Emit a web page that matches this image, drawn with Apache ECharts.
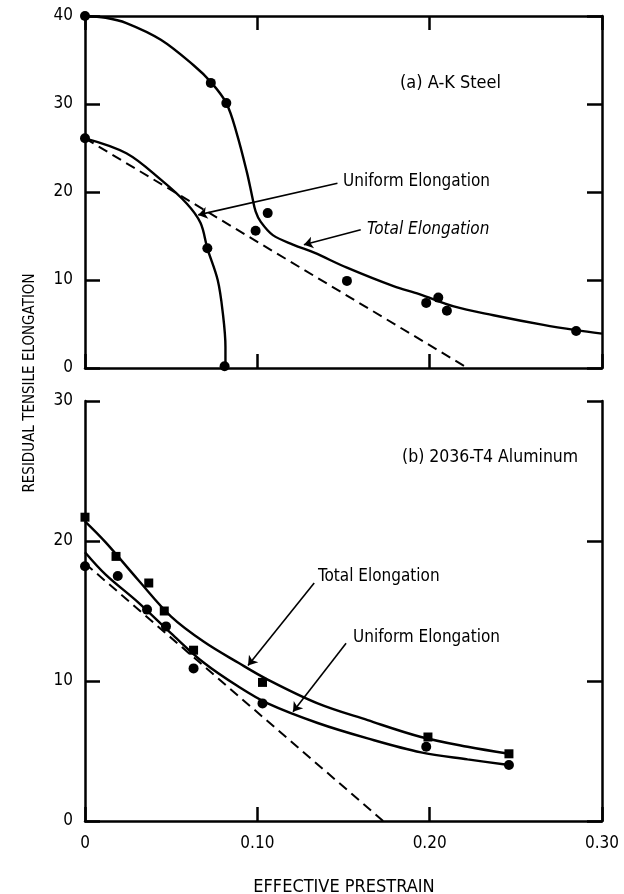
<!DOCTYPE html>
<html><head><meta charset="utf-8">
<script src="https://cdn.jsdelivr.net/npm/echarts@6/dist/echarts.min.js"></script>
<style>html,body{margin:0;padding:0;background:#fff}#c{width:624px;height:894px}</style>
</head><body><div id="c"></div>
<script>
// ---------- Data: (a) A-K Steel ----------
const steelTotalCurve = [[0,40],[0.012,39.8],[0.024,39.2],[0.044,37.3],[0.063,34.4],[0.073,32.5],[0.082,30.1],[0.088,26.7],[0.094,22.2],[0.097,19.5],[0.099,17.8],[0.102,16.6],[0.109,15.1],[0.121,14.0],[0.133,13.1],[0.152,11.4],[0.179,9.3],[0.194,8.4],[0.214,7.0],[0.237,6.0],[0.266,4.9],[0.285,4.3],[0.30,3.9]];
const steelUniformCurve = [[0,26.1],[0.024,24.4],[0.044,21.4],[0.059,18.7],[0.067,16.5],[0.071,13.6],[0.077,10.0],[0.080,6.2],[0.0815,2.4],[0.0815,0.2]];
const steelLinearLine = [[0,26.1],[0.222,0]];
const steelPoints = [[0,40],[0.073,32.4],[0.082,30.1],[0.106,17.6],[0.099,15.6],[0.152,9.9],[0.198,7.4],[0.205,8.0],[0.210,6.5],[0.285,4.2],[0,26.1],[0.071,13.6],[0.081,0.2]];

// ---------- Data: (b) 2036-T4 Aluminum ----------
const alTotalCurve = [[0,21.4],[0.012,19.9],[0.031,17.2],[0.050,14.6],[0.069,12.8],[0.089,11.3],[0.106,10.1],[0.135,8.4],[0.164,7.2],[0.195,6.0],[0.222,5.3],[0.246,4.8]];
const alUniformCurve = [[0,19.2],[0.012,17.6],[0.031,15.6],[0.050,13.4],[0.069,11.3],[0.089,9.6],[0.106,8.4],[0.135,7.0],[0.164,5.9],[0.195,4.9],[0.222,4.4],[0.246,4.0]];
const alLinearLine = [[0,18.4],[0.173,0]];
const alTotalPoints = [[0,21.7],[0.018,18.9],[0.037,17.0],[0.046,15.0],[0.063,12.2],[0.103,9.9],[0.199,6.0],[0.246,4.8]];
const alUniformPoints = [[0,18.2],[0.019,17.5],[0.036,15.1],[0.047,13.9],[0.063,10.9],[0.103,8.4],[0.198,5.3],[0.246,4.0]];

// ---------- Axis / tick labels ----------
const xTicks = [0, 0.10, 0.20, 0.30];
const steelYTicks = [0, 10, 20, 30, 40];
const alYTicks = [0, 10, 20, 30];
const xTitle = 'EFFECTIVE PRESTRAIN';
const yTitle = 'RESIDUAL TENSILE ELONGATION';

// annotation arrows in data units [from, to]
const steelUniformArrow = [[0.1465,21.0],[0.0657,17.4]];
const steelTotalArrow = [[0.160,15.7],[0.127,14.0]];
const alTotalArrow = [[0.133,17.0],[0.0946,11.1]];
const alUniformArrow = [[0.1515,12.7],[0.1207,7.8]];

const FONT = "'Liberation Sans Narrow','DejaVu Sans Condensed',sans-serif";
const INK = '#000';

function xAx(gridIndex, position, showLabel) {
  return {
    type:'value', gridIndex, position, min:xTicks[0], max:xTicks[xTicks.length-1], interval:0.1,
    axisLine:{show:true, onZero:false, lineStyle:{color:INK, width:2.5}},
    axisTick:{show:true, inside:true, length:14, lineStyle:{color:INK, width:2.5}},
    axisLabel:{show:showLabel, color:INK, fontFamily:FONT, fontSize:17, margin:14,
      formatter:v => v === 0 ? '0' : v.toFixed(2)},
    splitLine:{show:false}
  };
}
function yAx(gridIndex, position, ticks, showLabel) {
  return {
    type:'value', gridIndex, position, min:ticks[0], max:ticks[ticks.length-1], interval:10,
    axisLine:{show:true, onZero:false, lineStyle:{color:INK, width:2.5}},
    axisTick:{show:true, inside:true, length:15, lineStyle:{color:INK, width:2.5}},
    axisLabel:{show:showLabel, color:INK, fontFamily:FONT, fontSize:17, margin:12},
    splitLine:{show:false}
  };
}
function curve(data, xi, yi, dashed) {
  return {type:'line', data, xAxisIndex:xi, yAxisIndex:yi, symbol:'none', smooth:dashed?false:0.35,
    lineStyle:{color:INK, width:dashed?2:2.4, type:dashed?[10,6]:'solid'}, z:3, silent:true};
}
function pts(data, xi, yi, sym) {
  return {type:'scatter', data, xAxisIndex:xi, yAxisIndex:yi, symbol:sym, symbolSize:sym==='rect'?9:10,
    itemStyle:{color:INK, opacity:1}, z:5, silent:true};
}
function arrows(xi, yi, list) {
  return {type:'line', data:[], xAxisIndex:xi, yAxisIndex:yi, silent:true,
    markLine:{silent:true, symbol:['none','arrow'], symbolSize:9, animation:false,
      label:{show:false}, lineStyle:{color:INK, width:1.6, type:'solid', opacity:1},
      emphasis:{disabled:true},
      data:list.map(a => [{coord:a[0]},{coord:a[1]}])}};
}

const chart = echarts.init(document.getElementById('c'));
chart.setOption({
  animation:false,
  backgroundColor:'#fff',
  grid:[
    {left:85, top:16, width:517, height:352},
    {left:85, top:401, width:517, height:420}
  ],
  xAxis:[xAx(0,'bottom',false), xAx(0,'top',false), xAx(1,'bottom',true)],
  yAxis:[yAx(0,'left',steelYTicks,true), yAx(0,'right',steelYTicks,false), yAx(1,'left',alYTicks,true), yAx(1,'right',alYTicks,false)],
  series:[
    curve(steelTotalCurve,0,0,false),
    curve(steelUniformCurve,0,0,false),
    curve(steelLinearLine,0,0,true),
    pts(steelPoints,0,0,'circle'),
    arrows(0,0,[steelUniformArrow, steelTotalArrow]),
    curve(alTotalCurve,2,2,false),
    curve(alUniformCurve,2,2,false),
    curve(alLinearLine,2,2,true),
    pts(alTotalPoints,2,2,'rect'),
    pts(alUniformPoints,2,2,'circle'),
    arrows(2,2,[alTotalArrow, alUniformArrow])
  ],
  graphic:[
    {type:'text', x:400, y:83, style:{text:'(a) A-K Steel', font:'18px '+FONT, fill:INK, verticalAlign:'middle'}},
    {type:'text', x:343, y:182, style:{text:'Uniform Elongation', font:'17px '+FONT, fill:INK, verticalAlign:'middle'}},
    {type:'text', x:367, y:230, style:{text:'Total Elongation', font:'italic 17px '+FONT, fill:INK, verticalAlign:'middle'}},
    {type:'text', x:402, y:457, style:{text:'(b) 2036-T4 Aluminum', font:'17.5px '+FONT, fill:INK, verticalAlign:'middle'}},
    {type:'text', x:318, y:577, style:{text:'Total Elongation', font:'17px '+FONT, fill:INK, verticalAlign:'middle'}},
    {type:'text', x:353, y:638, style:{text:'Uniform Elongation', font:'17px '+FONT, fill:INK, verticalAlign:'middle'}},
    {type:'text', x:344, y:887, style:{text:xTitle, font:'18px '+FONT, fill:INK, align:'center', verticalAlign:'middle'}},
    {type:'text', x:30, y:383, rotation:Math.PI/2, style:{text:yTitle, font:'15px '+FONT, fill:INK, align:'center', verticalAlign:'middle'}}
  ]
});
</script></body></html>
